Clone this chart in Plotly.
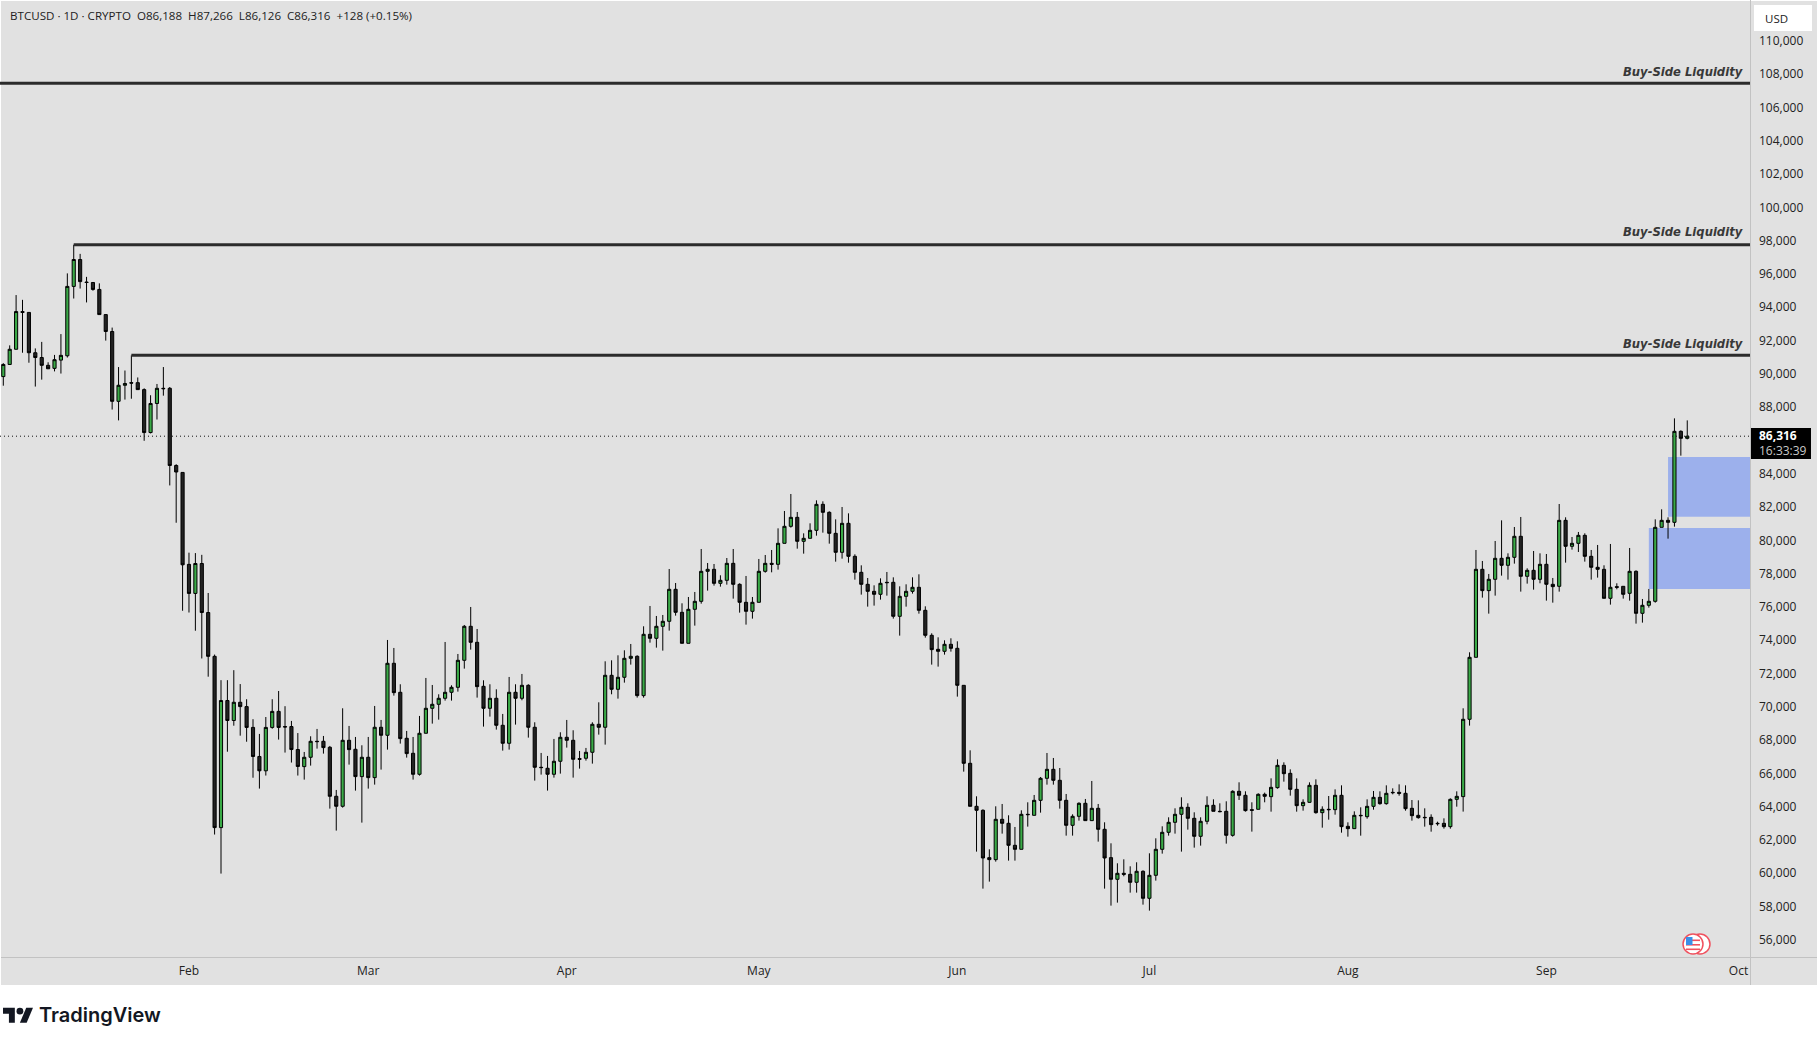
import pandas as pd
import plotly.graph_objects as go

# daily candles, first one is Jan 3
start_date = "2026-01-03"

opens = [
    89896, 90625, 91537, 93803, 93751, 91329, 91042, 90573, 90391, 90886,
    91146, 95314, 96929, 95575, 95549, 95132, 93621, 92605, 88411, 89375,
    89531, 89531, 89114, 86535, 88281, 89193, 89193, 84556, 84139, 78616,
    76871, 78668, 75724, 73093, 62804, 70437, 69238, 70332, 70072, 68822,
    67076, 66216, 68822, 69785, 68874, 68874, 67493, 66468, 67028, 67989,
    67989, 67629, 64686, 64085, 68049, 67509, 65867, 67028, 65807, 68830,
    68350, 72674, 70932, 68169, 67268, 66007, 68470, 69971, 70211, 70572,
    70932, 71232, 72854, 74896, 73935, 71292, 69971, 70572, 68950, 67869,
    70932, 70572, 71352, 68830, 66428, 66368, 66007, 66788, 68229, 68049,
    66948, 66968, 67328, 69010, 68830, 71953, 71112, 71833, 72974, 73094,
    70732, 74415, 74175, 74896, 75196, 77118, 75736, 73875, 75917, 76397,
    78199, 78319, 77478, 77658, 78679, 77418, 76337, 75797, 76337, 78199,
    78679, 78619, 79881, 80902, 81442, 80001, 80181, 80661, 82223, 81743,
    80481, 79340, 81082, 79100, 78139, 77418, 76997, 76818, 77538, 77538,
    75496, 76697, 76997, 77238, 75857, 74355, 73514, 73394, 73815, 73574,
    71350, 66666, 64083, 63843, 61000, 60880, 63302, 63062, 61741, 61500,
    63603, 63542, 64443, 65765, 66305, 65645, 64443, 62942, 63482, 64263,
    63222, 63963, 62702, 61000, 59699, 60059, 59999, 59519, 60179, 58558,
    59939, 61500, 62521, 63122, 63603, 64023, 63362, 62281, 63182, 64143,
    63783, 63783, 62341, 64984, 64744, 63883, 63903, 64804, 64662, 65203,
    66544, 66064, 65103, 64122, 64322, 65343, 63701, 63902, 63882, 64743,
    62881, 62741, 63541, 63461, 64082, 64622, 64242, 64923, 64923, 64863,
    63962, 63541, 63421, 63421, 63061, 63061, 62861, 64502, 64666, 69310,
    73034, 78319, 77038, 77719, 78980, 78560, 79040, 80302, 77899, 78259,
    77719, 78620, 77419, 77298, 81262, 79701, 79881, 80361, 79100, 78440,
    78319, 76578, 77278, 77298, 76878, 78199, 75677, 76157, 76398, 80842,
    81262, 81142, 86608, 86188,
]
highs = [
    90703, 91772, 94793, 94507, 93751, 91589, 91980, 90756, 91198, 92449,
    96096, 97815, 97268, 95887, 95575, 95497, 93621, 92840, 90469, 90260,
    91172, 89844, 89193, 88776, 89453, 90469, 89271, 84634, 84139, 79319,
    79294, 79189, 76897, 73198, 71661, 71661, 72260, 71426, 70515, 69316,
    68431, 69447, 70515, 71010, 70098, 69212, 68483, 67348, 68289, 68730,
    68309, 67709, 65066, 69971, 68910, 68249, 67749, 68249, 70111, 69270,
    74075, 73595, 71413, 68610, 68249, 69511, 71793, 71372, 70812, 73955,
    71352, 73234, 74976, 76057, 74736, 71653, 71413, 71112, 69631, 71853,
    71413, 72033, 71413, 69130, 67288, 67108, 68129, 68530, 69270, 68650,
    67408, 67589, 69130, 70331, 72794, 72853, 73154, 73454, 73835, 73154,
    74896, 76117, 75516, 75576, 78339, 77498, 76277, 76657, 76958, 79540,
    78699, 78639, 77959, 78999, 79540, 77478, 77919, 76657, 78940, 79180,
    79480, 80781, 81823, 82844, 81763, 80481, 81082, 82463, 82403, 81803,
    81322, 82063, 81682, 79220, 78559, 77798, 77358, 77778, 78159, 77838,
    77298, 77418, 77838, 78019, 76097, 74475, 74235, 74055, 74175, 73995,
    71350, 67446, 64684, 63903, 61500, 64083, 64223, 63543, 62842, 63843,
    64323, 64764, 65845, 67286, 66986, 66385, 64824, 63603, 64323, 64523,
    65605, 64223, 63122, 61861, 60660, 60900, 60479, 60720, 60239, 61260,
    62161, 62882, 63422, 63963, 64624, 64263, 63723, 63422, 64684, 64503,
    64263, 64383, 65044, 65525, 64984, 64323, 64864, 64904, 65763, 66905,
    66724, 66304, 65763, 64502, 65523, 65703, 64082, 64702, 65103, 65343,
    63121, 63781, 64022, 64502, 65003, 64983, 65343, 65163, 65403, 65343,
    64462, 64442, 63962, 63601, 63161, 63361, 64562, 64983, 69971, 73335,
    79481, 78820, 78039, 80021, 81262, 79280, 80862, 81463, 78379, 79420,
    79280, 79240, 77799, 82243, 81443, 80261, 80562, 80482, 79481, 79781,
    78560, 79841, 77479, 77298, 79601, 78259, 76538, 77138, 81322, 81923,
    81443, 87388, 86668, 87266,
]
lows = [
    89349, 90625, 91537, 91329, 90729, 89297, 89714, 90365, 90208, 90078,
    91042, 94585, 95184, 94351, 95054, 93621, 92058, 87916, 87265, 88515,
    88567, 89114, 86040, 86483, 87317, 88750, 83357, 81117, 75830, 75724,
    74630, 72963, 71869, 62387, 60042, 67363, 68926, 68326, 67962, 65800,
    65148, 65930, 68743, 68092, 67311, 66711, 65930, 65687, 66528, 67549,
    67248, 63945, 62624, 64005, 66588, 65026, 63104, 65146, 65386, 66287,
    67489, 70732, 67849, 67008, 65687, 65927, 68470, 69050, 69290, 70432,
    70432, 70972, 72353, 73495, 70612, 68870, 69471, 68690, 67429, 67489,
    68990, 70452, 68209, 65627, 65987, 65026, 65807, 66047, 67609, 65807,
    66347, 66828, 66648, 68389, 67789, 70812, 70551, 71512, 72593, 70612,
    70612, 73914, 73614, 73434, 74635, 75536, 73875, 73875, 74936, 76257,
    77038, 77338, 77278, 77398, 76557, 75716, 74996, 75356, 76337, 78119,
    78139, 78299, 79881, 80822, 79560, 79260, 80181, 80341, 80521, 79861,
    78779, 78960, 78719, 77698, 76798, 76077, 76137, 76497, 76737, 75356,
    74335, 76077, 76858, 75656, 74215, 72593, 72473, 73194, 73374, 70671,
    66165, 64083, 61360, 59138, 59559, 60760, 62441, 60820, 60820, 61500,
    62862, 63542, 63702, 65384, 65384, 63943, 62321, 62321, 63222, 63222,
    63222, 61961, 59138, 58117, 58297, 59879, 58898, 58898, 58177, 57817,
    59619, 61240, 62321, 62441, 61360, 62682, 61601, 61721, 63002, 63783,
    63723, 61841, 62261, 64463, 63763, 62562, 63903, 64323, 63761, 65143,
    65563, 64722, 63761, 63821, 64302, 63641, 62800, 63281, 63581, 62500,
    62260, 62741, 62320, 63341, 63882, 64182, 64182, 64803, 64722, 63821,
    63221, 63341, 62861, 62560, 62921, 62741, 62741, 64062, 63765, 68930,
    73034, 76618, 75657, 76738, 77939, 77699, 78660, 76978, 77459, 77098,
    77479, 76438, 76317, 76978, 78720, 79501, 79360, 78780, 77699, 77819,
    76578, 76197, 77118, 76558, 76438, 75056, 75116, 76017, 76317, 80842,
    80161, 80882, 85146, 86126,
]
closes = [
    90625, 91537, 93803, 93751, 91329, 91042, 90573, 90365, 90912, 91172,
    95314, 96929, 95601, 95549, 95132, 93621, 92605, 88411, 89375, 89479,
    89505, 89114, 86535, 88281, 89193, 89170, 84556, 84165, 78590, 76871,
    78668, 75724, 73093, 62804, 70437, 69238, 70332, 70072, 68822, 67076,
    66216, 68822, 69785, 68822, 68848, 67493, 66477, 67028, 67989, 67969,
    67609, 64686, 64085, 68049, 67489, 65867, 67028, 65807, 68830, 68350,
    72674, 70912, 68149, 67248, 66007, 68470, 69971, 70211, 70572, 70932,
    71232, 72854, 74896, 73935, 71272, 69971, 70572, 68950, 67869, 70932,
    70572, 71352, 68830, 66428, 66408, 66007, 66788, 68229, 68049, 66908,
    66908, 67328, 69010, 68830, 71953, 71112, 71833, 72974, 73094, 70732,
    74415, 74175, 74896, 75196, 77118, 75736, 73875, 75917, 76397, 78199,
    78319, 77478, 77658, 78679, 77418, 76337, 75797, 76337, 78199, 78679,
    78619, 79881, 80902, 81442, 80001, 80181, 80661, 82223, 81743, 80481,
    79340, 81082, 79100, 78139, 77418, 76997, 76818, 77478, 77518, 75496,
    76697, 76997, 77238, 75857, 74355, 73494, 73394, 73815, 73574, 71352,
    66666, 64083, 63843, 60980, 60880, 63302, 63062, 61741, 61500, 63603,
    63583, 64443, 65765, 66305, 65645, 64443, 62942, 63482, 64263, 63222,
    63963, 62702, 60980, 59699, 60059, 59999, 59519, 60179, 58558, 59939,
    61500, 62521, 63122, 63603, 64023, 63362, 62281, 63182, 64143, 63783,
    63763, 62341, 64984, 64744, 63823, 63843, 64804, 64684, 65223, 66544,
    66044, 65103, 64122, 64322, 65343, 63701, 63902, 63882, 64743, 62861,
    62741, 63541, 63521, 64082, 64622, 64242, 64863, 64903, 64863, 63942,
    63521, 63401, 63401, 62981, 63041, 62861, 64502, 64682, 69310, 73034,
    78319, 77038, 77719, 78980, 78560, 79040, 80302, 77899, 78259, 77719,
    78620, 77419, 77278, 81262, 79701, 79881, 80361, 79100, 78440, 78319,
    76578, 77238, 77238, 76818, 78199, 75677, 76157, 76398, 80842, 81262,
    81142, 86608, 86188, 86316,
]

last_price = 86316

# buy-side liquidity levels and where each line starts
liq_levels = [107514, 97819, 91175]
liq_starts = ["2026-01-02 11:38", "2026-01-14", "2026-01-23"]

# blue zones: start date, top, bottom
zone_starts = ["2026-09-20", "2026-09-17"]
zone_tops = [85066, 80802]
zone_bottoms = [81483, 77138]

# 86,000 sits under the price tag in the original, so no label there
y_ticks = [v for v in range(56000, 112000, 2000) if v != 86000]
month_ticks = ["2026-02-01", "2026-03-01", "2026-04-01", "2026-05-01",
               "2026-06-01", "2026-07-01", "2026-08-01", "2026-09-01", "2026-10-01"]
month_labels = ["Feb", "Mar", "Apr", "May", "Jun", "Jul", "Aug", "Sep", "Oct"]

header_text = ("BTCUSD · 1D · CRYPTO\u00a0\u00a0O86,188\u00a0\u00a0H87,266\u00a0\u00a0"
               "L86,126\u00a0\u00a0C86,316\u00a0\u00a0+128 (+0.15%)")

W, H = 1817, 1045
PLOT_W, PLOT_H = 1750, 957
BG = "#e1e1e1"
AXIS_LINE = "#c2c2c2"
x_end = "2026-10-02 19:12"


def px_x(v):
    return v / PLOT_W


def px_y(v):
    return 1 - v / PLOT_H


def paper_rect(x0, y0, x1, y1, color):
    return dict(type="rect", xref="paper", yref="paper", x0=px_x(x0), x1=px_x(x1),
                y0=px_y(y0), y1=px_y(y1), fillcolor=color, line_width=0, layer="below")


def paper_circle(x0, y0, x1, y1, fill, line):
    return dict(type="circle", xref="paper", yref="paper", x0=px_x(x0), x1=px_x(x1),
                y0=px_y(y0), y1=px_y(y1), fillcolor=fill,
                line=dict(color=line, width=1.5), layer="above")


def pixel_path(points, fill, close=True):
    # points in page pixels, turned into a paper path
    parts = []
    for cmd, x, y in points:
        parts.append(f"{cmd}{px_x(x)},{px_y(y)}")
    d = " ".join(parts) + (" Z" if close else "")
    return dict(type="path", xref="paper", yref="paper", path=d, fillcolor=fill,
                line_width=0, layer="above")


dates = pd.date_range(start_date, periods=len(opens), freq="D")

fig = go.Figure()

for level, start in zip(liq_levels, liq_starts):
    fig.add_trace(go.Scatter(
        x=[start, x_end], y=[level, level], mode="lines",
        line=dict(color="#2b2b2b", width=3), hoverinfo="skip", showlegend=False,
    ))

fig.add_trace(go.Candlestick(
    x=dates, open=opens, high=highs, low=lows, close=closes,
    increasing=dict(fillcolor="#3aaa47", line=dict(color="#000000", width=1)),
    decreasing=dict(fillcolor="#222222", line=dict(color="#000000", width=1)),
    whiskerwidth=0, showlegend=False,
))

shapes = [
    paper_rect(1, 1, W, 985, BG),
    paper_rect(1750, 0, 1751, 985, AXIS_LINE),
    paper_rect(1, 957, W, 958, AXIS_LINE),
]

for start, top, bottom in zip(zone_starts, zone_tops, zone_bottoms):
    shapes.append(dict(type="rect", xref="x", yref="y", x0=start, x1=x_end, y0=bottom, y1=top,
                       fillcolor="#9cb0ec", line_width=0, layer="below"))

shapes.append(dict(type="line", xref="paper", yref="y", x0=0, x1=1, y0=last_price, y1=last_price,
                   line=dict(color="#111111", width=1, dash="1px,3px"), layer="above"))

# price tag
shapes.append(paper_rect(1751, 428, 1811, 459, "#000000"))

# USD button
shapes.append(paper_rect(1754, 5, 1812, 31, "#ffffff"))

# calendar flag icon
shapes.append(paper_circle(1690, 934, 1710, 954, "#ffffff", "#f0515e"))
shapes.append(paper_circle(1683, 934, 1703, 954, "#ffffff", "#f0515e"))
for stripe_y in (939.5, 944, 948.5):
    shapes.append(dict(type="rect", xref="paper", yref="paper", x0=px_x(1686), x1=px_x(1700),
                       y0=px_y(stripe_y), y1=px_y(stripe_y + 1.6), fillcolor="#f0515e",
                       line_width=0, layer="above"))
shapes.append(dict(type="rect", xref="paper", yref="paper", x0=px_x(1686), x1=px_x(1692.5),
                   y0=px_y(937), y1=px_y(945), fillcolor="#3a8fe8", line_width=0, layer="above"))

# TradingView mark
logo_x, logo_y, sx, sy = 3, 1004.5, 0.845, 0.83
t_pts = [(0, 4), (14, 4), (14, 22), (7, 22), (7, 11), (0, 11)]
slash_pts = [(27.5, 4), (35.5, 4), (28, 22), (20, 22)]
shapes.append(pixel_path([("M" if i == 0 else "L", logo_x + a * sx, logo_y + b * sy)
                          for i, (a, b) in enumerate(t_pts)], "#131722"))
shapes.append(pixel_path([("M" if i == 0 else "L", logo_x + a * sx, logo_y + b * sy)
                          for i, (a, b) in enumerate(slash_pts)], "#131722"))
shapes.append(dict(type="circle", xref="paper", yref="paper", x0=px_x(logo_x + 16 * sx),
                   x1=px_x(logo_x + 24 * sx), y0=px_y(logo_y + 4 * sy), y1=px_y(logo_y + 12 * sy),
                   fillcolor="#131722", line_width=0, layer="above"))

annotations = [
    dict(text=header_text, xref="paper", yref="paper", x=px_x(8), y=px_y(15.5),
         xanchor="left", yanchor="middle", showarrow=False,
         font=dict(family="Open Sans", size=11.6, color="#222222")),
    dict(text="USD", xref="paper", yref="paper", x=px_x(1763), y=px_y(18.5),
         xanchor="left", yanchor="middle", showarrow=False,
         font=dict(family="Open Sans", size=11.5, color="#222222")),
    dict(text="<b>86,316</b>", xref="paper", yref="paper", x=px_x(1757), y=px_y(435.5),
         xanchor="left", yanchor="middle", showarrow=False,
         font=dict(family="Open Sans", size=12, color="#ffffff")),
    dict(text="16:33:39", xref="paper", yref="paper", x=px_x(1757), y=px_y(450),
         xanchor="left", yanchor="middle", showarrow=False,
         font=dict(family="Open Sans", size=12, color="#c9c9c9")),
    dict(text="TradingView", xref="paper", yref="paper", x=px_x(37), y=px_y(1015),
         xanchor="left", yanchor="middle", showarrow=False,
         font=dict(family="Inter", size=20, color="#131722", weight=600)),
]
for level, shift in zip(liq_levels, [11, 13, 11]):
    annotations.append(dict(
        text="<b><i>Buy-Side Liquidity</i></b>", xref="paper", yref="y", x=px_x(1745), y=level,
        xanchor="right", yanchor="middle", yshift=shift, showarrow=False,
        font=dict(family="DejaVu Sans", size=11.6, color="#383838"),
    ))

fig.update_layout(
    width=W, height=H,
    margin=dict(l=0, r=W - PLOT_W, t=0, b=H - PLOT_H, pad=0),
    paper_bgcolor="#ffffff", plot_bgcolor="rgba(0,0,0,0)",
    showlegend=False,
    shapes=shapes, annotations=annotations,
    xaxis=dict(
        type="date", range=["2026-01-02 11:38", x_end], rangeslider=dict(visible=False),
        tickmode="array", tickvals=month_ticks, ticktext=month_labels,
        showgrid=False, zeroline=False, showline=False, ticks="",
        ticklabelstandoff=5,
        tickfont=dict(family="Open Sans", size=12, color="#222222"),
    ),
    yaxis=dict(
        side="right", range=[55031, 112518],
        tickmode="array", tickvals=y_ticks, tickformat=",d",
        showgrid=False, zeroline=False, showline=False, ticks="",
        ticklabelstandoff=8, ticklabelshift=-1,
        tickfont=dict(family="Open Sans", size=12, color="#222222"),
    ),
)

fig.write_html("out.html", config=dict(displayModeBar=False),
               post_script="document.body.style.margin='0';")
